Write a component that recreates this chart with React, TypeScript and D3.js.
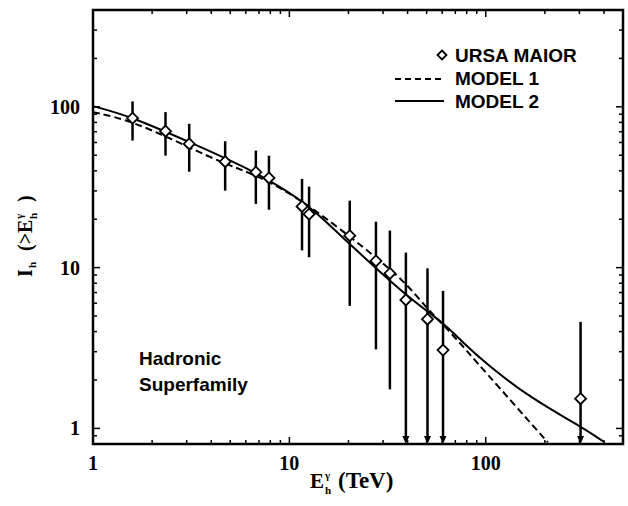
import React from "react";
import * as d3 from "d3";

// URSA MAIOR data points (E in TeV, integral intensity)
const energies = [1.59, 2.34, 3.09, 4.71, 6.75, 7.87, 11.6, 12.6, 20.3, 27.6, 32.5, 39.2, 50.5, 60.6, 304];
const intensity = [85, 70.6, 58.8, 45.6, 39.2, 36.1, 24.0, 21.5, 15.8, 11.0, 9.2, 6.3, 4.78, 3.07, 1.53];
const errUpper = [108, 92.7, 78.4, 61.1, 53.4, 49.7, 35.6, 31.9, 26.1, 19.3, 17.0, 12.4, 9.9, 7.17, 4.6];
// null -> error bar runs down to the axis with an arrow (upper limit)
const errLower = [61.7, 49.7, 39.5, 30.1, 24.9, 22.9, 12.8, 11.6, 5.78, 3.1, 1.75, null, null, null, null];

// model curves
const model1E = [1, 1.58, 3.08, 4.69, 6.75, 11.3, 24.7, 39.2, 50.5, 60.6, 76.0, 89.4, 117, 168, 207];
const model1I = [92.7, 82, 56, 44.2, 37.7, 27.1, 13.0, 8.09, 5.51, 4.44, 3.27, 2.6, 1.8, 1.09, 0.82];
const model2E = [1, 1.58, 3.08, 6.75, 11.3, 14.3, 20.3, 39.2, 60.6, 73.6, 101, 173, 304, 403];
const model2I = [101, 86.6, 60.5, 39.5, 26.7, 21.0, 14.0, 6.67, 4.56, 3.58, 2.5, 1.52, 1.03, 0.82];

const labelTicks = [1, 10, 100];

const left = 93, top = 10, right = 623, bottom = 444;

const App = () => {
  const x = d3.scaleLog().domain([1, 500]).range([left, right]);
  const y = d3.scaleLog().domain([0.8, 400]).range([bottom, top]);

  const isMajor = (v: number) => Math.abs(Math.log10(v) - Math.round(Math.log10(v))) < 1e-6;

  const line = d3
    .line<[number, number]>()
    .x((d) => x(d[0]))
    .y((d) => y(d[1]))
    .curve(d3.curveBasis);

  const m1 = line(model1E.map((e, i) => [e, model1I[i]]));
  const m2 = line(model2E.map((e, i) => [e, model2I[i]]));

  const diamond = (cx: number, cy: number, r: number) =>
    `M${cx},${cy - r}L${cx + r},${cy}L${cx},${cy + r}L${cx - r},${cy}Z`;

  const serif = "'Liberation Serif', 'Times New Roman', serif";
  const sans = "'Liberation Sans', Arial, sans-serif";

  return (
    <svg width={628} height={506} style={{ position: "absolute", left: 0, top: 0, background: "white" }}>
      <defs>
        <clipPath id="plot">
          <rect x={left} y={top} width={right - left} height={bottom - top} />
        </clipPath>
      </defs>

      {/* x ticks, bottom and top */}
      {x.ticks().filter((v) => v >= 1 && v <= 500).map((v) => {
        const len = isMajor(v) ? 7 : 4;
        return (
          <g key={"xt" + v} stroke="black" strokeWidth={1.5}>
            <line x1={x(v)} x2={x(v)} y1={bottom} y2={bottom - len} />
            <line x1={x(v)} x2={x(v)} y1={top} y2={top + len} />
          </g>
        );
      })}
      {/* y ticks, left and right */}
      {y.ticks().filter((v) => v >= 0.8 && v <= 400).map((v) => {
        const len = isMajor(v) ? 7 : 4;
        return (
          <g key={"yt" + v} stroke="black" strokeWidth={1.5}>
            <line x1={left} x2={left + len} y1={y(v)} y2={y(v)} />
            <line x1={right} x2={right - len} y1={y(v)} y2={y(v)} />
          </g>
        );
      })}

      {labelTicks.map((v) => (
        <text key={"xl" + v} x={x(v)} y={470} textAnchor="middle" fontFamily={serif} fontWeight="bold" fontSize={20}>
          {v}
        </text>
      ))}
      {labelTicks.map((v) => (
        <text key={"yl" + v} x={80} y={y(v) + 7} textAnchor="end" fontFamily={serif} fontWeight="bold" fontSize={20}>
          {v}
        </text>
      ))}

      {/* models */}
      <g clipPath="url(#plot)" fill="none" stroke="black" strokeWidth={2}>
        <path d={m1 || ""} strokeDasharray="7,4" />
        <path d={m2 || ""} />
      </g>

      {/* error bars */}
      {energies.map((e, i) => {
        const lo = errLower[i];
        const cx = x(e);
        return (
          <g key={"eb" + i}>
            <line
              x1={cx}
              x2={cx}
              y1={y(errUpper[i])}
              y2={lo === null ? bottom - 6 : y(lo)}
              stroke="black"
              strokeWidth={2.5}
            />
            {lo === null && <path d={`M${cx - 3.5},${bottom - 8}L${cx + 3.5},${bottom - 8}L${cx},${bottom}Z`} fill="black" />}
          </g>
        );
      })}
      {energies.map((e, i) => (
        <path key={"pt" + i} d={diamond(x(e), y(intensity[i]), 5.5)} fill="white" stroke="black" strokeWidth={1.8} />
      ))}

      {/* frame */}
      <rect x={left} y={top} width={right - left} height={bottom - top} fill="none" stroke="black" strokeWidth={2.5} />

      {/* legend */}
      <path d={diamond(442, 55, 4.5)} fill="white" stroke="black" strokeWidth={1.8} />
      <line x1={395} x2={444} y1={79} y2={79} stroke="black" strokeWidth={2} strokeDasharray="6,4" />
      <line x1={395} x2={444} y1={101} y2={101} stroke="black" strokeWidth={2} />
      <g fontFamily={sans} fontWeight="bold" fontSize={19}>
        <text x={455} y={62}>URSA MAIOR</text>
        <text x={455} y={85}>MODEL 1</text>
        <text x={455} y={108}>MODEL 2</text>
        <text x={139} y={365}>Hadronic</text>
        <text x={139} y={391}>Superfamily</text>
      </g>

      {/* axis titles */}
      <g fontFamily={serif} fontWeight="bold">
        <text x={310} y={488} fontSize={21}>E</text>
        <text x={325} y={479} fontSize={11}>γ</text>
        <text x={325} y={494} fontSize={11}>h</text>
        <text x={338} y={488} fontSize={23}>(TeV)</text>
      </g>
      <g transform="translate(32,277) rotate(-90)" fontFamily={serif} fontWeight="bold">
        <text x={0} y={0} fontSize={20}>I</text>
        <text x={9} y={4} fontSize={11}>h</text>
        <text x={26} y={0} fontSize={20}>{"(>E"}</text>
        <text x={58} y={-9} fontSize={11}>γ</text>
        <text x={58} y={5} fontSize={11}>h</text>
        <text x={75} y={0} fontSize={20}>)</text>
      </g>
    </svg>
  );
};

export default App;
